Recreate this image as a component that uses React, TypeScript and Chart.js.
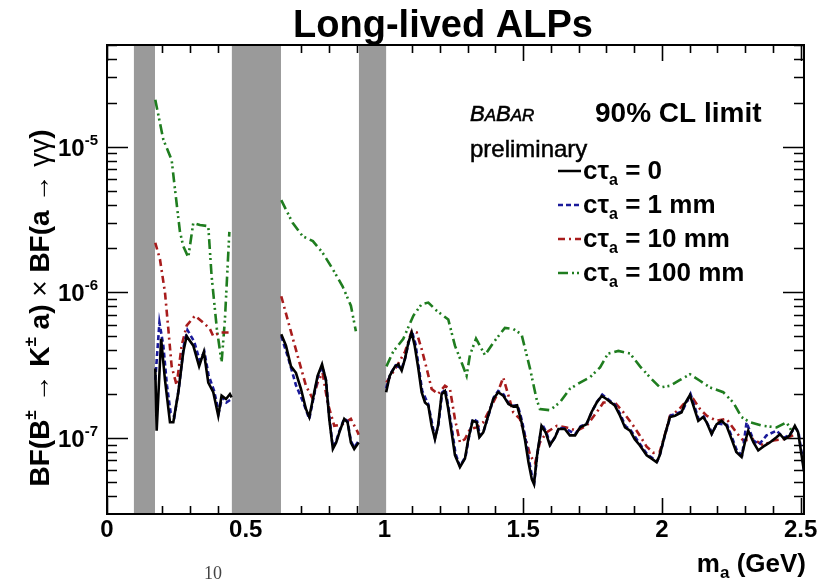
import React, { useEffect, useRef } from "react";
import { Chart, registerables } from "chart.js";

Chart.register(...registerables);

// ---------- axis ranges ----------
const X_MIN = 0;
const X_MAX = 2.512;
const Y_MIN = 3.06e-8;
const Y_MAX = 5.0e-5;

// ---------- vetoed mass regions (GeV) ----------
const vetoLow = [0.097, 0.45, 0.908];
const vetoHigh = [0.173, 0.627, 1.006];

// ---------- tick labels ----------
const xTickValues = [0, 0.5, 1, 1.5, 2, 2.5];
const xTickLabels = ["0", "0.5", "1", "1.5", "2", "2.5"];
const yDecades = [1e-7, 1e-6, 1e-5];
const yDecadeExp = ["-7", "-6", "-5"];

// ---------- series: c tau = 0 (black) ----------
const massCt0 = [
  0.174, 0.179, 0.195, 0.209, 0.227, 0.239, 0.257, 0.275, 0.287, 0.311, 0.332, 0.349, 0.365, 0.383, 0.401, 0.413, 0.429, 0.443, 0.449,
  0.54,
  0.628, 0.645, 0.663, 0.681, 0.699, 0.717, 0.729, 0.747, 0.759, 0.775, 0.789, 0.801, 0.814, 0.826, 0.838, 0.855, 0.867, 0.879, 0.891, 0.907,
  0.96,
  1.006, 1.019, 1.038, 1.05, 1.062, 1.074, 1.086, 1.098, 1.109, 1.122, 1.134, 1.146, 1.158, 1.17, 1.182, 1.193, 1.206, 1.218, 1.23, 1.242,
  1.254, 1.272, 1.29, 1.302, 1.318, 1.332, 1.342, 1.356, 1.374, 1.392, 1.41, 1.428, 1.447, 1.464, 1.478, 1.494, 1.506, 1.519, 1.531, 1.539,
  1.55, 1.566, 1.581, 1.596, 1.615, 1.627, 1.65, 1.668, 1.687, 1.705, 1.728, 1.746, 1.765, 1.783, 1.8, 1.83, 1.849, 1.867, 1.885, 1.902,
  1.92, 1.945, 1.963, 1.981, 1.992, 2.01, 2.029, 2.047, 2.071, 2.082, 2.101, 2.113, 2.131, 2.149, 2.161, 2.179, 2.197, 2.215, 2.233, 2.251,
  2.268, 2.287, 2.299, 2.311, 2.33, 2.347, 2.365, 2.389, 2.413, 2.425, 2.442, 2.461, 2.479, 2.491, 2.512,
];
const bfCt0 = [
  3.0e-7, 1.12e-7, 4.8e-7, 2.5e-7, 1.28e-7, 1.28e-7, 2.06e-7, 3.9e-7, 5.0e-7, 4.3e-7, 3.1e-7, 3.9e-7, 2.4e-7, 2.06e-7, 1.42e-7, 1.95e-7, 1.85e-7, 2.0e-7, 1.9e-7,
  null,
  5.15e-7, 4.3e-7, 3.1e-7, 2.8e-7, 2.17e-7, 1.58e-7, 1.39e-7, 2.06e-7, 2.67e-7, 3.2e-7, 2.5e-7, 1.35e-7, 8.4e-8, 9.3e-8, 1.1e-7, 1.35e-7, 1.28e-7, 9.3e-8, 8.4e-8, 9.3e-8,
  null,
  2.06e-7, 2.67e-7, 3.1e-7, 3.2e-7, 2.9e-7, 3.5e-7, 4.5e-7, 5.3e-7, 4.3e-7, 3.0e-7, 2.06e-7, 1.75e-7, 1.67e-7, 1.21e-7, 9.8e-8, 1.21e-7, 2.0e-7, 2.1e-7, 1.58e-7, 1.09e-7,
  7.6e-8, 6.3e-8, 7.2e-8, 9.8e-8, 1.31e-7, 1.28e-7, 1.01e-7, 1.09e-7, 1.42e-7, 1.85e-7, 2.06e-7, 1.95e-7, 1.71e-7, 1.64e-7, 1.67e-7, 1.28e-7, 9.8e-8, 6.8e-8, 5.2e-8, 4.8e-8,
  7.6e-8, 1.21e-7, 1.09e-7, 8.9e-8, 1.01e-7, 1.15e-7, 1.15e-7, 1.04e-7, 1.04e-7, 1.18e-7, 1.24e-7, 1.5e-7, 1.75e-7, 1.94e-7, 1.85e-7, 1.67e-7, 1.42e-7, 1.18e-7, 1.12e-7, 9.8e-8,
  8.9e-8, 7.6e-8, 7.2e-8, 6.8e-8, 7.6e-8, 1.04e-7, 1.39e-7, 1.42e-7, 1.5e-7, 1.71e-7, 1.97e-7, 1.67e-7, 1.31e-7, 1.39e-7, 1.28e-7, 1.06e-7, 1.24e-7, 1.31e-7, 1.21e-7, 9.8e-8,
  8.0e-8, 7.4e-8, 9.3e-8, 1.12e-7, 9.3e-8, 8.2e-8, 8.7e-8, 9.3e-8, 1.01e-7, 1.06e-7, 9.8e-8, 1.04e-7, 1.21e-7, 1.09e-7, 5.9e-8,
];

// ---------- series: c tau = 1 mm (blue) ----------
const massCt1 = [
  0.174, 0.189, 0.203, 0.216, 0.229, 0.243, 0.259, 0.277, 0.29, 0.314, 0.334, 0.351, 0.366, 0.386, 0.403, 0.415, 0.43, 0.449,
  0.54,
  0.628, 0.652, 0.681, 0.705, 0.729, 0.747, 0.759, 0.775, 0.789, 0.801, 0.814, 0.826, 0.838, 0.855, 0.867, 0.879, 0.891, 0.907,
  0.96,
  1.006, 1.021, 1.04, 1.062, 1.074, 1.088, 1.099, 1.112, 1.124, 1.136, 1.158, 1.182, 1.195, 1.208, 1.22, 1.244, 1.256, 1.272, 1.292, 1.304,
  1.318, 1.334, 1.344, 1.358, 1.376, 1.394, 1.41, 1.43, 1.447, 1.466, 1.48, 1.496, 1.508, 1.521, 1.533, 1.54, 1.552, 1.568, 1.583, 1.598,
  1.617, 1.629, 1.652, 1.687, 1.707, 1.73, 1.748, 1.767, 1.785, 1.802, 1.832, 1.851, 1.869, 1.887, 1.922, 1.947, 1.983, 1.994, 2.012, 2.031,
  2.073, 2.103, 2.115, 2.133, 2.151, 2.181, 2.199, 2.235, 2.253, 2.27, 2.289, 2.305, 2.33, 2.35, 2.377, 2.413, 2.44, 2.46, 2.48, 2.492, 2.512,
];
const bfCt1 = [
  2.5e-7, 6.2e-7, 4.3e-7, 2.3e-7, 1.5e-7, 1.4e-7, 2.2e-7, 4.3e-7, 5.5e-7, 4.6e-7, 3.4e-7, 3.9e-7, 2.7e-7, 2.1e-7, 1.5e-7, 1.9e-7, 1.75e-7, 1.85e-7,
  null,
  5.0e-7, 3.6e-7, 2.3e-7, 1.8e-7, 1.35e-7, 2.0e-7, 2.6e-7, 3.1e-7, 2.5e-7, 1.4e-7, 8.6e-8, 9.5e-8, 1.12e-7, 1.36e-7, 1.3e-7, 9.5e-8, 8.6e-8, 9.5e-8,
  null,
  2.2e-7, 2.75e-7, 3.15e-7, 3.0e-7, 3.5e-7, 4.6e-7, 5.4e-7, 4.4e-7, 3.0e-7, 2.1e-7, 1.7e-7, 1.0e-7, 1.25e-7, 2.05e-7, 2.15e-7, 1.12e-7, 7.8e-8, 6.4e-8, 7.4e-8, 1.0e-7,
  1.35e-7, 1.3e-7, 1.03e-7, 1.12e-7, 1.45e-7, 1.9e-7, 2.1e-7, 1.98e-7, 1.72e-7, 1.66e-7, 1.68e-7, 1.3e-7, 1.0e-7, 7.0e-8, 5.3e-8, 5.0e-8, 8.0e-8, 1.24e-7, 1.1e-7, 9.0e-8,
  1.03e-7, 1.17e-7, 1.16e-7, 1.06e-7, 1.2e-7, 1.26e-7, 1.52e-7, 1.78e-7, 1.98e-7, 1.87e-7, 1.68e-7, 1.44e-7, 1.2e-7, 1.13e-7, 9.0e-8, 7.7e-8, 6.9e-8, 7.8e-8, 1.06e-7, 1.42e-7,
  1.52e-7, 2.0e-7, 1.7e-7, 1.33e-7, 1.4e-7, 1.08e-7, 1.26e-7, 1.23e-7, 1.0e-7, 8.2e-8, 7.6e-8, 1.28e-7, 9.6e-8, 9.0e-8, 1.04e-7, 1.12e-7, 1.0e-7, 1.05e-7, 1.18e-7, 1.1e-7, 6.0e-8,
];

// ---------- series: c tau = 10 mm (red) ----------
const massCt10 = [
  0.174, 0.191, 0.209, 0.221, 0.233, 0.251, 0.269, 0.287, 0.317, 0.347, 0.371, 0.383, 0.407, 0.443, 0.449,
  0.54,
  0.628, 0.657, 0.687, 0.717, 0.742, 0.759, 0.777, 0.795, 0.819, 0.849, 0.879, 0.903, 0.907,
  0.96,
  1.007, 1.044, 1.074, 1.098, 1.116, 1.134, 1.152, 1.17, 1.193, 1.218, 1.236, 1.254, 1.272, 1.29, 1.308, 1.332, 1.356, 1.38, 1.404, 1.428,
  1.447, 1.464, 1.488, 1.506, 1.525, 1.543, 1.56, 1.584, 1.621, 1.656, 1.693, 1.728, 1.765, 1.789, 1.83, 1.861, 1.897, 1.92, 1.945, 1.969,
  1.992, 2.01, 2.029, 2.059, 2.088, 2.113, 2.137, 2.161, 2.197, 2.233, 2.268, 2.293, 2.33, 2.365, 2.401, 2.437, 2.473,
];
const bfCt10 = [
  2.19e-6, 1.68e-6, 9.95e-7, 5.6e-7, 3.1e-7, 2.3e-7, 4.3e-7, 5.9e-7, 6.9e-7, 6.2e-7, 5.6e-7, 5.0e-7, 5.3e-7, 5.3e-7, 5.3e-7,
  null,
  9.4e-7, 5.9e-7, 3.66e-7, 2.28e-7, 1.85e-7, 2.4e-7, 2.8e-7, 1.75e-7, 1.21e-7, 1.24e-7, 1.35e-7, 1.1e-7, 1.05e-7,
  null,
  2.4e-7, 3.1e-7, 3.9e-7, 5.4e-7, 5.3e-7, 4.07e-7, 3.0e-7, 2.17e-7, 2.0e-7, 2.28e-7, 2.17e-7, 1.35e-7, 9.3e-8, 9.8e-8, 1.15e-7, 1.18e-7, 1.28e-7, 1.58e-7, 1.95e-7, 2.6e-7,
  1.95e-7, 1.5e-7, 1.35e-7, 1.04e-7, 7.6e-8, 6.7e-8, 9.3e-8, 1.09e-7, 1.21e-7, 1.18e-7, 1.12e-7, 1.21e-7, 1.5e-7, 1.75e-7, 1.75e-7, 1.5e-7, 1.21e-7, 1.04e-7, 8.7e-8, 7.9e-8,
  8.0e-8, 1.04e-7, 1.42e-7, 1.55e-7, 1.8e-7, 1.85e-7, 1.58e-7, 1.42e-7, 1.31e-7, 1.35e-7, 1.09e-7, 9.6e-8, 9.8e-8, 8.9e-8, 9.6e-8, 9.8e-8, 1.04e-7,
];

// ---------- series: c tau = 100 mm (green) ----------
const massCt100 = [
  0.174, 0.203, 0.233, 0.245, 0.263, 0.275, 0.293, 0.311, 0.335, 0.365, 0.377, 0.396, 0.413, 0.425, 0.441,
  0.54,
  0.628, 0.669, 0.705, 0.742, 0.777, 0.814, 0.849, 0.879, 0.897,
  0.96,
  1.007, 1.031, 1.068, 1.104, 1.134, 1.158, 1.189, 1.23, 1.254, 1.278, 1.296, 1.308, 1.33, 1.344, 1.362, 1.392, 1.434, 1.464, 1.494, 1.525,
  1.548, 1.56, 1.596, 1.632, 1.668, 1.705, 1.74, 1.777, 1.806, 1.843, 1.885, 1.921, 1.957, 1.993, 2.029, 2.065, 2.101, 2.137, 2.173, 2.221,
  2.257, 2.287, 2.317, 2.365, 2.413, 2.449, 2.467,
];
const bfCt100 = [
  2.1e-5, 1.12e-5, 8.1e-6, 5.1e-6, 2.6e-6, 2.07e-6, 1.74e-6, 3.0e-6, 2.9e-6, 2.85e-6, 1.29e-6, 5.6e-7, 3.3e-7, 6.5e-7, 2.6e-6,
  null,
  4.3e-6, 3.0e-6, 2.43e-6, 2.25e-6, 1.87e-6, 1.44e-6, 1.1e-6, 8.1e-7, 5.4e-7,
  null,
  3.1e-7, 3.9e-7, 4.8e-7, 6.9e-7, 8.3e-7, 8.5e-7, 7.45e-7, 6.5e-7, 4.3e-7, 3.3e-7, 2.67e-7, 3.7e-7, 4.8e-7, 4.3e-7, 3.7e-7, 4.5e-7, 5.7e-7, 5.6e-7, 5.15e-7, 2.97e-7,
  1.85e-7, 1.58e-7, 1.55e-7, 1.75e-7, 2.17e-7, 2.4e-7, 2.6e-7, 3.05e-7, 3.8e-7, 3.96e-7, 3.8e-7, 3.1e-7, 2.6e-7, 2.22e-7, 2.28e-7, 2.5e-7, 2.74e-7, 2.47e-7, 2.22e-7, 2.06e-7,
  1.75e-7, 1.39e-7, 1.28e-7, 1.21e-7, 1.18e-7, 1.28e-7, 1.12e-7,
];

const legendLabels = ["0", "1 mm", "10 mm", "100 mm"];

// ---------- styles ----------
const SANS = '"Liberation Sans", Arial, Helvetica, sans-serif';
const COLORS = ["#000000", "#1a1a9a", "#a81c1c", "#1f7d1f"];
const DASHES: number[][] = [[], [5, 3], [7, 4, 2, 4], [10, 4, 2, 3, 2, 4]];

type Run = { t: string; f: string; dy?: number; heavy?: number };

function runsWidth(ctx: CanvasRenderingContext2D, runs: Run[]) {
  let w = 0;
  for (const r of runs) {
    ctx.font = r.f;
    w += ctx.measureText(r.t).width;
  }
  return w;
}

function drawRuns(ctx: CanvasRenderingContext2D, runs: Run[], x: number, y: number, align: "left" | "right" | "center") {
  const w = runsWidth(ctx, runs);
  let cx = align === "left" ? x : align === "right" ? x - w : x - w / 2;
  ctx.textAlign = "left";
  ctx.textBaseline = "alphabetic";
  for (const r of runs) {
    ctx.font = r.f;
    ctx.fillText(r.t, cx, y + (r.dy || 0));
    if (r.heavy) {
      ctx.save();
      ctx.lineWidth = r.heavy;
      ctx.strokeStyle = ctx.fillStyle as string;
      ctx.strokeText(r.t, cx, y + (r.dy || 0));
      ctx.restore();
    }
    cx += ctx.measureText(r.t).width;
  }
}

const bold = (s: number) => `bold ${s}px ${SANS}`;
const reg = (s: number) => `${s}px ${SANS}`;
const ital = (s: number) => `italic ${s}px ${SANS}`;

const underlayPlugin = {
  id: "underlay",
  beforeDatasetsDraw(chart: any) {
    const ctx: CanvasRenderingContext2D = chart.ctx;
    const a = chart.chartArea;
    const xs = chart.scales.x;
    const ys = chart.scales.y;
    ctx.save();
    ctx.strokeStyle = "#000";
    ctx.lineWidth = 1.6;
    // x ticks (top & bottom, inward)
    for (let i = 0; i <= 25; i++) {
      const v = i / 10;
      if (v > X_MAX) break;
      const px = Math.round(xs.getPixelForValue(v)) + 0.5;
      const len = i % 5 === 0 ? 16 : 8;
      ctx.beginPath();
      ctx.moveTo(px, a.bottom);
      ctx.lineTo(px, a.bottom - len);
      ctx.moveTo(px, a.top);
      ctx.lineTo(px, a.top + len);
      ctx.stroke();
    }
    // y ticks (left & right, inward)
    const decs = [1e-8, 1e-7, 1e-6, 1e-5];
    for (const d of decs) {
      for (let k = 1; k <= 9; k++) {
        const v = d * k;
        if (v < Y_MIN || v > Y_MAX) continue;
        const py = Math.round(ys.getPixelForValue(v)) + 0.5;
        const len = k === 1 ? 21 : 10;
        ctx.beginPath();
        ctx.moveTo(a.left, py);
        ctx.lineTo(a.left + len, py);
        ctx.moveTo(a.right, py);
        ctx.lineTo(a.right - len, py);
        ctx.stroke();
      }
    }
    // veto bands
    ctx.fillStyle = "#9a9a9a";
    for (let i = 0; i < vetoLow.length; i++) {
      const x0 = xs.getPixelForValue(vetoLow[i]);
      const x1 = xs.getPixelForValue(vetoHigh[i]);
      ctx.fillRect(x0, a.top, x1 - x0, a.bottom - a.top);
    }
    ctx.restore();
  },
  afterDraw(chart: any) {
    const ctx: CanvasRenderingContext2D = chart.ctx;
    const a = chart.chartArea;
    const xs = chart.scales.x;
    const ys = chart.scales.y;
    ctx.save();
    // frame
    ctx.strokeStyle = "#000";
    ctx.lineWidth = 2;
    ctx.strokeRect(a.left, a.top, a.right - a.left, a.bottom - a.top);

    ctx.fillStyle = "#000";
    // title
    drawRuns(ctx, [{ t: "Long-lived ALPs", f: bold(38) }], 443, 37, "center");

    // x tick labels
    xTickValues.forEach((v, i) => {
      const px = xs.getPixelForValue(v);
      drawRuns(ctx, [{ t: xTickLabels[i], f: bold(24) }], px, 537, "center");
    });
    // y tick labels
    yDecades.forEach((v, i) => {
      const py = ys.getPixelForValue(v);
      drawRuns(ctx, [{ t: "10", f: bold(24) }, { t: yDecadeExp[i], f: bold(15), dy: -11 }], 98, py + 9, "right");
    });

    // x axis title
    drawRuns(
      ctx,
      [
        { t: "m", f: bold(26) },
        { t: "a", f: bold(17), dy: 6 },
        { t: " (GeV)", f: bold(26) },
      ],
      806,
      572,
      "right"
    );

    // y axis title (rotated)
    ctx.save();
    ctx.translate(49, 308);
    ctx.rotate(-Math.PI / 2);
    drawRuns(
      ctx,
      [
        { t: "BF(B", f: bold(28) },
        { t: "\u00b1", f: bold(17), dy: -13 },
        { t: " \u2192 ", f: reg(28) },
        { t: "K", f: bold(28) },
        { t: "\u00b1", f: bold(17), dy: -13 },
        { t: " a) ", f: bold(28) },
        { t: "\u00d7 ", f: reg(28) },
        { t: "BF(a ", f: bold(28) },
        { t: "\u2192 ", f: reg(28) },
        { t: "\u03b3\u03b3", f: reg(28) },
        { t: ")", f: bold(28) },
      ],
      0,
      0,
      "center"
    );
    ctx.restore();

    // BABAR preliminary
    drawRuns(
      ctx,
      [
        { t: "B", f: ital(22), heavy: 0.6 },
        { t: "A", f: ital(17), heavy: 0.6 },
        { t: "B", f: ital(22), heavy: 0.6 },
        { t: "AR", f: ital(17), heavy: 0.6 },
      ],
      470,
      121,
      "left"
    );
    drawRuns(ctx, [{ t: "preliminary", f: reg(24), heavy: 0.5 }], 470, 157, "left");
    drawRuns(ctx, [{ t: "90% CL limit", f: bold(28) }], 595, 122, "left");

    // legend
    legendLabels.forEach((lab, i) => {
      const base = 179 + i * 34;
      ctx.save();
      ctx.strokeStyle = COLORS[i];
      ctx.lineWidth = 2.5;
      ctx.setLineDash(DASHES[i]);
      ctx.beginPath();
      ctx.moveTo(558, base - 8);
      ctx.lineTo(581, base - 8);
      ctx.stroke();
      ctx.restore();
      drawRuns(
        ctx,
        [
          { t: "c\u03c4", f: bold(26) },
          { t: "a", f: bold(16), dy: 6 },
          { t: " = " + lab, f: bold(26) },
        ],
        583,
        base,
        "left"
      );
    });

    // stray page number
    ctx.fillStyle = "#444";
    ctx.font = '18px "Liberation Serif", "DejaVu Serif", serif';
    ctx.textAlign = "left";
    ctx.fillText("10", 204, 579);
    ctx.restore();
  },
};

function toPoints(m: number[], v: (number | null)[]) {
  return m.map((x, i) => ({ x, y: v[i] }));
}

export default function App() {
  const ref = useRef<HTMLCanvasElement | null>(null);
  useEffect(() => {
    if (!ref.current) return;
    const series = [
      { m: massCt0, v: bfCt0 },
      { m: massCt1, v: bfCt1 },
      { m: massCt10, v: bfCt10 },
      { m: massCt100, v: bfCt100 },
    ];
    const chart = new Chart(ref.current, {
      type: "line",
      data: {
        datasets: series.map((s, i) => ({
          label: "c\u03c4a = " + legendLabels[i],
          data: toPoints(s.m, s.v),
          borderColor: COLORS[i],
          borderWidth: 2.6,
          borderDash: DASHES[i],
          pointRadius: 0,
          fill: false,
          tension: 0,
          spanGaps: false,
          order: i,
        })),
      },
      options: {
        animation: false,
        responsive: false,
        maintainAspectRatio: false,
        layout: { padding: { left: 107, top: 45, right: 13, bottom: 66 } },
        scales: {
          x: { type: "linear", min: X_MIN, max: X_MAX, display: false },
          y: { type: "logarithmic", min: Y_MIN, max: Y_MAX, display: false },
        },
        plugins: { legend: { display: false }, tooltip: { enabled: false } },
      },
      plugins: [underlayPlugin],
    } as any);
    return () => chart.destroy();
  }, []);
  return (
    <div style={{ position: "absolute", left: 0, top: 0, width: 817, height: 580, background: "#fff" }}>
      <canvas ref={ref} width={817} height={580} style={{ width: 817, height: 580, display: "block" }} />
    </div>
  );
}
